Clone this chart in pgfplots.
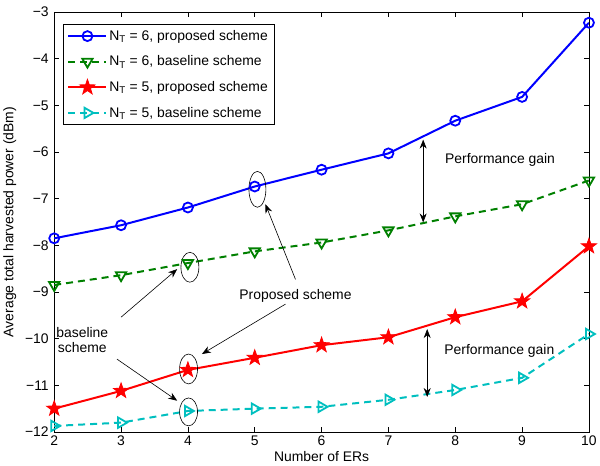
\documentclass[border=0pt]{standalone}
\usepackage{fontspec}
\setmainfont{Liberation Sans}
\usepackage{pgfplots}
\pgfplotsset{compat=1.18}
\usetikzlibrary{arrows.meta}
\pgfdeclareplotmark{mstar}{%
  \pgfpathmoveto{\pgfpointpolar{90}{\pgfplotmarksize}}%
  \pgfpathlineto{\pgfpointpolar{126}{0.4\pgfplotmarksize}}%
  \pgfpathlineto{\pgfpointpolar{162}{\pgfplotmarksize}}%
  \pgfpathlineto{\pgfpointpolar{198}{0.4\pgfplotmarksize}}%
  \pgfpathlineto{\pgfpointpolar{234}{\pgfplotmarksize}}%
  \pgfpathlineto{\pgfpointpolar{270}{0.4\pgfplotmarksize}}%
  \pgfpathlineto{\pgfpointpolar{306}{\pgfplotmarksize}}%
  \pgfpathlineto{\pgfpointpolar{342}{0.4\pgfplotmarksize}}%
  \pgfpathlineto{\pgfpointpolar{18}{\pgfplotmarksize}}%
  \pgfpathlineto{\pgfpointpolar{54}{0.4\pgfplotmarksize}}%
  \pgfpathclose\pgfusepathqfillstroke}
\definecolor{mgreen}{rgb}{0,0.5,0}
\definecolor{mcyan}{rgb}{0,0.75,0.75}
\begin{document}
\begin{tikzpicture}
\begin{axis}[
  scale only axis, width=536bp, height=421bp,
  xmin=2, xmax=10, ymin=-12, ymax=-3,
  xtick={2,...,10}, ytick={-12,...,-3},
  yticklabels={−12,−11,−10,−9,−8,−7,−6,−5,−4,−3},
  /pgf/number format/assume math mode=true,
  tick align=inside, major tick length=5bp,
  tick style={black, line width=0.6bp},
  axis line style={line width=0.8bp},
  font=\fontsize{14}{16}\selectfont,
  ticklabel style={font=\fontsize{14}{16}\selectfont},
  yticklabel style={xshift=-2bp},
  xlabel={Number of ERs}, ylabel={Average total harvested power (dBm)},
  xlabel style={yshift=1bp},
  ylabel style={yshift=2bp},
  legend style={at={(0.017,0.971)}, anchor=north west, draw=black,
    font=\fontsize{14}{16}\selectfont, row sep=10bp, inner sep=4bp},
  legend cell align=left,
  legend image code/.code={\draw[mark repeat=2,mark phase=2,#1] plot coordinates {(0bp,0bp)(19bp,0bp)(38bp,0bp)};},
]
\addplot[blue, line width=2bp, mark=o, mark size=5bp, mark options={line width=1.8bp}] coordinates {
(2,-7.85)(3,-7.57)(4,-7.19)(5,-6.74)(6,-6.38)(7,-6.03)(8,-5.33)(9,-4.82)(10,-3.23)};
\addlegendentry{N\textsubscript{T} = 6, proposed scheme}
\addplot[mgreen, line width=2bp, dash pattern=on 7bp off 5bp, mark=triangle, mark size=6bp, mark options={solid, rotate=180, line width=1.8bp}] coordinates {
(2,-8.85)(3,-8.64)(4,-8.38)(5,-8.13)(6,-7.94)(7,-7.68)(8,-7.38)(9,-7.12)(10,-6.61)};
\addlegendentry{N\textsubscript{T} = 6, baseline scheme}
\addplot[red, line width=2bp, mark=mstar, mark size=8bp, mark options={fill=red, line width=0.8bp}] coordinates {
(2,-11.50)(3,-11.12)(4,-10.67)(5,-10.41)(6,-10.14)(7,-9.97)(8,-9.54)(9,-9.20)(10,-8.02)};
\addlegendentry{N\textsubscript{T} = 5, proposed scheme}
\addplot[mcyan, line width=2bp, dash pattern=on 7bp off 5bp, mark=triangle, mark size=6bp, mark options={solid, rotate=-90, line width=1.8bp}] coordinates {
(2,-11.87)(3,-11.80)(4,-11.55)(5,-11.50)(6,-11.46)(7,-11.31)(8,-11.10)(9,-10.84)(10,-9.90)};
\addlegendentry{N\textsubscript{T} = 5, baseline scheme}
% annotations
\draw[black, line width=0.6bp] (axis cs:5.04,-6.80) ellipse [x radius=8.5bp, y radius=18bp];
\draw[black, line width=0.6bp] (axis cs:4.03,-8.47) ellipse [x radius=9bp, y radius=15bp];
\draw[black, line width=0.6bp] (axis cs:4.01,-10.65) ellipse [x radius=9bp, y radius=15bp];
\draw[black, line width=0.6bp] (axis cs:4.01,-11.57) ellipse [x radius=9bp, y radius=14bp];
\node[font=\fontsize{14}{16}\selectfont] at (axis cs:5.61,-9.09) {Proposed scheme};
\node[font=\fontsize{14}{16}\selectfont, align=center] at (axis cs:2.42,-10.03) {baseline\\scheme};
\node[font=\fontsize{14}{16}\selectfont] at (axis cs:8.67,-6.16) {Performance gain};
\node[font=\fontsize{14}{16}\selectfont] at (axis cs:8.66,-10.26) {Performance gain};
\draw[-{Stealth[length=9bp,width=7bp]}, line width=0.6bp] (axis cs:5.61,-8.73) -- (axis cs:5.16,-7.12);
\draw[-{Stealth[length=9bp,width=7bp]}, line width=0.6bp] (axis cs:5.46,-9.26) -- (axis cs:4.21,-10.33);
\draw[-{Stealth[length=9bp,width=7bp]}, line width=0.6bp] (axis cs:3.0,-9.54) -- (axis cs:3.84,-8.51);
\draw[-{Stealth[length=9bp,width=7bp]}, line width=0.6bp] (axis cs:2.94,-10.44) -- (axis cs:3.84,-11.33);
\draw[{Stealth[length=9bp,width=7bp]}-{Stealth[length=9bp,width=7bp]}, line width=0.6bp] (axis cs:7.52,-5.735) -- (axis cs:7.52,-7.51);
\draw[{Stealth[length=9bp,width=7bp]}-{Stealth[length=9bp,width=7bp]}, line width=0.6bp] (axis cs:7.58,-9.795) -- (axis cs:7.58,-11.25);
\end{axis}
\path (current axis.south west) ++(0,-34bp);
\path (current axis.north west) ++(0,12bp);
\end{tikzpicture}
\end{document}
